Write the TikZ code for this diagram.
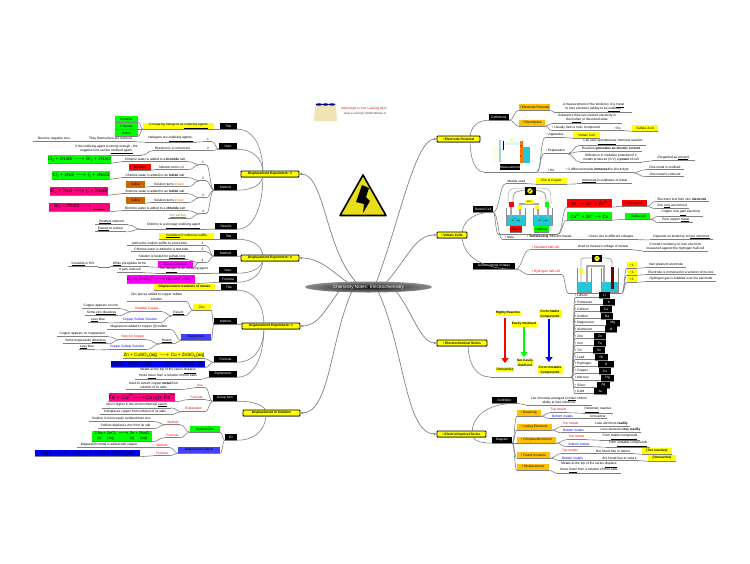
\documentclass[tikz,border=0pt]{standalone}
\usepackage{fontspec}
\setmainfont{Liberation Sans}
\usetikzlibrary{calc,arrows.meta,shapes.geometric}
\definecolor{tyel}{HTML}{FFFF00}
\definecolor{tgrn}{HTML}{00FF00}
\definecolor{tora}{HTML}{FFC000}
\definecolor{tpnk}{HTML}{FF0080}
\definecolor{tmag}{HTML}{FF00FF}
\definecolor{tblu}{HTML}{0000FF}
\definecolor{tmbl}{HTML}{4040FF}
\definecolor{tbrn}{HTML}{CC6600}
\definecolor{tred}{HTML}{FF0000}
\definecolor{lnc}{HTML}{808080}
\definecolor{wcy}{HTML}{20C8D8}
\definecolor{lbei}{HTML}{F0E4B4}
\tikzset{
 x=1pt,y=-1pt,
 every node/.style={font=\fontsize{3.25}{4.5}\selectfont,inner sep=0pt,align=center},
 tx/.style={minimum height=5pt,inner ysep=.5pt},
 bx/.style={minimum height=6pt},
 bk/.style={bx,fill=black,text=white},
 yb/.style={bx,fill=tyel},
 gb/.style={bx,fill=tgrn},
 ob/.style={bx,fill=tora},
 rb/.style={bx,fill=tred},
 bb/.style={bx,fill=tmbl},
 nb/.style={bx,fill=tbrn},
 mb/.style={bx,fill=tmag},
 fm/.style={font=\fontsize{4.6}{5.5}\selectfont},
 rt/.style={tx,text=tred},
 bt/.style={tx,text=tblu},
 topic/.style={fill=tyel,draw=black,line width=.9pt,rounded corners=.8pt,minimum height=6pt},
 ul/.style={draw=lnc,line width=.8pt},
 conn/.style={draw=lnc,line width=.6pt},
 mainl/.style={draw=lnc,line width=.7pt,-{Stealth[length=3pt,width=2.5pt]}},
}
% style, name, x-left, x-right, y, text
\newcommand\nn[6][tx]{\node[#1,minimum width={(#4-#3)*1pt}] (#2) at ({(#3+#4)/2},#5) {#6};\draw[ul] (#2.south west) -- (#2.south east);}
\newcommand\Lnk[2]{\draw[conn] (#1) .. controls ($(#1)!.5!(#1 -| #2)$) and ($(#2)!.5!(#2 -| #1)$) .. (#2);}
\newcommand\Lk[2]{\Lnk{#1.south west}{#2.south east}}
\newcommand\Rk[2]{\Lnk{#1.south east}{#2.south west}}
% topic point, child anchor
\newcommand\Tk[2]{\draw[conn] (#2) .. controls ($(#2)!.6!(#2 -| #1)$) and ($(#1)!.65!(#1 |- #2)$) .. (#1);}
\newcommand\mt[6]{\node[tx,text width={(#3-575)*1pt},align=left,minimum width={(#3-575)*1pt}] (mn#1) at ({(575+#3)/2},#2) {#5};\draw[ul] (mn#1.south west) -- (mn#1.south east);
 \nn[bk]{ms#1}{#3}{#4}{#2}{#6}\Lnk{sh1}{mn#1.south west}}
\newcommand\arw{$\longrightarrow$}
\begin{document}
\begin{tikzpicture}
\useasboundingbox (0,0) rectangle (750,563);
% ---------- logo
\foreach \fx in {319,325.5,332}{
 \fill[lbei] (\fx-4,106) -- (\fx+4,106) -- (\fx+5,121) -- (\fx-5,121) -- cycle;
 \fill[blue!55!black] (\fx,104.5) ellipse (3.4 and 1.2);
}
\node[text=red!80!black,font=\fontsize{3}{3.4}\selectfont] (logoa) at (364,109) {Add Insight to Your Learning Here};
\node[text=black!70,font=\fontsize{3}{3.4}\selectfont] (logob) at (365,114) {www.LearningCurbMindMaps.in};
% ---------- warning sign
\draw[line width=1.6pt,line join=round,fill=yellow!90!black] (363,175) -- (386,215.5) -- (340,215.5) -- cycle;
\fill[black] (362,185) -- (369,188) -- (366,197) -- (370,201) -- (363,213) -- (364,204) -- (356,202) -- cycle;

% ========== Displacement Experiment 3
\coordinate (t3) at (263,174);
\nn[bk]{dT}{220}{237}{126}{Title}
\nn[yb]{dC}{143}{214}{126}{Comparing halogens as \underline{oxidizing agents}}
\nn[gb]{dg1}{115}{138}{119}{Bromine}
\nn[gb]{dg2}{115}{138}{126}{Chlorine}
\nn[gb]{dg3}{115}{138}{133}{Iodine}
\Tk{t3}{dT.south east}\Lk{dT}{dC}\Lk{dC}{dg1}\Lk{dC}{dg2}\Lk{dC}{dg3}
\nn[bk]{dN}{219}{237}{146}{Note}
\nn{dn1}{204}{212}{139}{1}
\nn{dn2}{204}{212}{148}{2}
\nn{dha}{145}{196}{139}{Halogens are \underline{oxidising agents.}}
\nn{dth}{86}{135}{139}{They themselves are reduced}
\nn{dbe}{33}{75}{139}{Become negative ions}
\nn{dre}{153}{192}{148}{Reaction is a conversion}
\nn{dif}{71}{142}{149.5}{If the oxidising agent is strong enough - the\\negative ions can be \underline{oxidised again.}}
\Tk{t3}{dN.south east}\Lk{dN}{dn1}\Lk{dN}{dn2}\Lk{dn1}{dha}\Lk{dha}{dth}\Lk{dth}{dbe}\Lk{dn2}{dre}\Lk{dre}{dif}
\nn[bk]{dM}{214}{237}{187}{Method}
\nn{dm1}{200}{206}{162}{1}
\nn{dm2}{200}{206}{178}{2}
\nn{dm3}{200}{206}{195}{3}
\nn{dm4}{200}{206}{211}{4}
\nn{da1}{122}{188}{159}{Chlorine water is added to a \textbf{bromide} salt}
\nn{da2}{155}{188}{167}{Solution turns \textcolor{tred}{red}}
\nn[rb]{db2}{129}{151}{167}{Bromine}
\nn{da3}{122}{188}{175}{Chlorine water is added to an \textbf{iodide} salt}
\nn{da4}{150}{188}{184}{Solution turns \textcolor{tbrn}{brown}}
\nn[nb]{db4}{126}{145}{184}{Iodine}
\nn{da5}{122}{188}{191}{Bromine water is added to an \textbf{iodide} salt}
\nn{da6}{150}{188}{200}{Solution turns \textcolor{tbrn}{brown}}
\nn[nb]{db6}{126}{145}{200}{Iodine}
\nn{da7}{122}{188}{208}{Bromine water is added to a \textbf{chloride} salt}
\nn[tx,text=olive]{da8}{168}{188}{216}{\underline{No reaction}}
\nn[gb,fm,minimum height=8pt]{df1}{50}{109}{159}{Cl\textsubscript{2} + 2NaBr \arw{} Br\textsubscript{2} + 2NaCl}
\nn[gb,fm,minimum height=8pt]{df3}{52}{110}{175}{Cl\textsubscript{2} + 2NaI \arw{} I\textsubscript{2} + 2NaCl}
\nn[bx,fill=tpnk,fm,minimum height=8pt]{df5}{50}{108}{191}{Br\textsubscript{2} + 2NaI \arw{} I\textsubscript{2} + 2NaBr}
\nn[bx,fill=tpnk,fm,minimum height=9pt]{df7}{49}{110}{207}{Br\textsubscript{2} + 2NaCl \arw{} \underline{\hspace{12pt}}}
\Tk{t3}{dM.south east}
\Lk{dM}{dm1}\Lk{dM}{dm2}\Lk{dM}{dm3}\Lk{dM}{dm4}
\Lk{dm1}{da1}\Lk{dm1}{da2}\Lk{da2}{db2}\Lk{dm2}{da3}\Lk{dm2}{da4}\Lk{da4}{db4}
\Lk{dm3}{da5}\Lk{dm3}{da6}\Lk{da6}{db6}\Lk{dm4}{da7}\Lk{dm4}{da8}
\Lk{da1}{df1}\Lk{da3}{df3}\Lk{da5}{df5}\Lk{da7}{df7}
\nn[bk]{dR}{215}{237}{226}{Results}
\nn{dr1}{141}{206}{226}{Chlorine is a \underline{stronger oxidising agent}}
\nn{dr2}{95}{128}{222}{\underline{Smallest} element}
\nn{dr3}{95}{126}{229}{\underline{Easiest} to reduce}
\Tk{t3}{dR.south east}\Lk{dR}{dr1}\Lk{dr1}{dr2}\Lk{dr1}{dr3}
\nn[topic]{d3}{241}{299}{174}{\textbf{Displacement Experiment: 3}}

% ========== Displacement Experiment 2
\coordinate (t2) at (263,258);
\nn[bk]{eT}{220}{237}{236}{Title}
\nn[yb]{eC}{159}{214}{236}{\underline{Oxidation} of sulfurous sulfite}
\Tk{t2}{eT.south east}\Lk{eT}{eC}
\nn[bk]{eM}{214}{237}{253}{Method}
\nn{em1}{199}{206}{243}{1}
\nn{em2}{199}{206}{249}{2}
\nn{em3}{199}{206}{260}{3}
\nn{ea1}{127}{192}{243}{Add some sodium sulfite to a test-tube}
\nn{ea2}{131}{192}{249}{Chlorine water is added to a test-tube}
\nn{ea3}{136}{188}{257}{Solution is tested for \underline{sulfate ions}}
\nn[mb]{ea4}{158}{193}{264}{Barium chloride}
\nn{ea5}{110}{149}{264}{\underline{White} precipitate forms}
\nn{ea6}{68}{98}{264}{\underline{Insoluble} in HCl}
\Tk{t2}{eM.south east}\Lk{eM}{em1}\Lk{eM}{em2}\Lk{eM}{em3}\Lk{em1}{ea1}\Lk{em2}{ea2}\Lk{em3}{ea3}\Lk{em3}{ea4}\Lk{ea4}{ea5}\Lk{ea5}{ea6}
\nn[bk]{eN}{219}{237}{270}{Note}
\nn{en1}{156}{211}{270}{The \underline{halogen} is an oxidising agent}
\nn{en2}{117}{143}{270}{It gets reduced}
\Tk{t2}{eN.south east}\Lk{eN}{en1}\Lk{en1}{en2}
\nn[bk]{eF}{219}{237}{279}{Formula}
\nn[mb,font=\fontsize{3.7}{4.5}\selectfont,minimum height=9pt]{ef}{129}{193}{279}{Cl\textsubscript{2}+H\textsubscript{2}O+SO\textsubscript{3}\textsuperscript{2--}\arw{}2Cl\textsuperscript{--}+2H\textsuperscript{+}+SO\textsubscript{4}\textsuperscript{2--}}
\Tk{t2}{eF.south east}\Lk{eF}{ef}
\nn[topic]{d2}{241}{299}{258}{\textbf{Displacement Experiment: 2}}

% ========== Displacement Experiment 1
\coordinate (t1) at (264,326);
\nn[bk]{fT}{221}{237}{287}{Title}
\nn[yb]{fC}{154}{215}{287}{\textbf{Displacement reactions of metals}}
\Tk{t1}{fT.south east}\Lk{fT}{fC}
\nn[bk]{fM}{214}{237}{321}{Method}
\nn[yb]{fZ}{193}{211}{307}{Zinc}
\nn[bb]{fG}{181}{211}{337}{Magnesium}
\nn{fz1}{127}{186}{297}{Zinc pieces added to copper sulfate\\solution}
\nn{fz2}{172}{185}{313}{\underline{Result:}}
\nn[rt]{fz3}{132}{162}{309}{Reddish Copper}
\nn{fz4}{82}{120}{306}{Copper appears on zinc}
\nn{fz5}{85}{118}{313}{Some \underline{zinc dissolves}}
\nn[bt]{fz6}{120}{160}{320}{Copper Sulfate Solution}
\nn{fz7}{88}{108}{320}{\underline{Less} blue}
\nn{fg1}{107}{171}{327}{Magnesium added to copper (II) sulfate}
\nn{fg2}{160}{174}{341}{\underline{Result:}}
\nn[rt]{fg3}{120}{146}{337}{Red-Ish Copper}
\nn{fg4}{57}{108}{334}{Copper appears on magnesium}
\nn{fg5}{63}{108}{341}{Some magnesium \underline{dissolves}}
\nn[bt]{fg6}{108}{146}{347}{Copper Sulfate Solution}
\nn{fg7}{79}{95}{347}{\underline{Less} blue}
\Tk{t1}{fM.south east}\Lk{fM}{fZ}\Lk{fM}{fG}
\Lk{fZ}{fz1}\Lk{fZ}{fz2}\Lk{fz2}{fz3}\Lk{fz3}{fz4}\Lk{fz3}{fz5}\Lk{fz2}{fz6}\Lk{fz6}{fz7}
\Lk{fG}{fg1}\Lk{fG}{fg2}\Lk{fg2}{fg3}\Lk{fg3}{fg4}\Lk{fg3}{fg5}\Lk{fg2}{fg6}\Lk{fg6}{fg7}
\nn[bk]{fF}{214}{237}{359}{Formula}
\nn[yb,fm,minimum height=7pt]{ff1}{124}{204}{355}{Zn + CuSO\textsubscript{4}(aq) \arw{} Cu + ZnSO\textsubscript{4}(aq)}
\nn[bx,fill=tblu,fm,minimum height=7pt]{ff2}{112}{204}{364}{Mg(s) + CuSO\textsubscript{4}(aq) \arw{} Cu(s) + MgSO\textsubscript{4}(aq)}
\Tk{t1}{fF.south east}\Lk{fF}{ff1}\Lk{fF}{ff2}
\nn[bk]{fE}{209}{237}{374}{Explanation}
\nn{fe1}{135}{201}{373.5}{Metals at the top of the series \underline{displace}\\those \underline{lower} from a solution of their salts}
\Tk{t1}{fE.south east}\Lk{fE}{fe1}
\nn[topic]{d1}{242}{300}{326}{\textbf{Displacement Experiment: 1}}

% ========== Displacement in Solution
\coordinate (t0) at (266,413);
\nn[bk]{gG}{213}{237}{398}{Group Item}
\nn[rt]{gU}{195}{205}{385}{Use}
\nn{gu1}{126}{181}{385.5}{Used to extract copper \textbf{metal} from\\solution of its salts}
\nn[rt]{gF}{188}{205}{397}{Formula}
\nn[bx,fill=tpnk,font=\fontsize{5.6}{7}\selectfont,minimum height=9pt]{gf1}{110}{174}{397}{Fe + Cu\textsuperscript{2+}\arw{}Cu(s)+ Fe\textsuperscript{2+}}
\nn[rt]{gE}{182}{205}{409}{Explanation}
\nn{ge1}{102}{171}{405}{Iron is higher in the electrochemical \underline{series}}
\nn{ge2}{100}{170}{412}{It displaces copper from solution of its salts}
\Tk{t0}{gG.south east}\Lk{gG}{gU}\Lk{gG}{gF}\Lk{gG}{gE}\Lk{gU}{gu1}\Lk{gF}{gf1}\Lk{gE}{ge1}\Lk{gE}{ge2}
\nn[bk]{gX}{225}{237}{437}{Ex}
\nn[gb]{gS}{190}{220}{429}{Sodium/Zinc}
\nn[bb]{gM}{178}{220}{450}{Magnesium/Copper}
\nn[rt]{gs1}{166}{180}{422}{Method}
\nn[rt]{gs2}{165}{180}{435}{Formula}
\nn{gs3}{89}{154}{419}{Sodium is more easily oxidised than zinc}
\nn{gs4}{98}{153}{426}{Sodium displaces zinc from its salt}
\nn[gb,font=\fontsize{3.8}{4.6}\selectfont,minimum height=11pt]{gs5}{92}{152}{436}{2 Na + ZnCl\textsubscript{2} \arw{} Zn + 2NaCl\\(s)\hspace{6pt}(aq)\hspace{16pt}(s)\hspace{6pt}(aq)}
\nn[rt]{gm1}{154}{170}{445}{Method}
\nn[rt]{gm2}{154}{170}{453}{Formula}
\nn{gm3}{77}{141}{445}{Magnesium metal is added with copper}
\nn[bx,fill=tblu,fm,minimum height=7pt]{gm4}{35}{140}{453}{Mg(s) + CuSO\textsubscript{4}(aq) \arw{} Cu(s) + MgSO\textsubscript{4}(aq)}
\Tk{t0}{gX.south east}\Lk{gX}{gS}\Lk{gX}{gM}\Lk{gS}{gs1}\Lk{gS}{gs2}\Lk{gs1}{gs3}\Lk{gs1}{gs4}\Lk{gs2}{gs5}\Lk{gM}{gm1}\Lk{gM}{gm2}\Lk{gm1}{gm3}\Lk{gm2}{gm4}
\nn[topic]{d0}{243}{300}{413}{\textbf{Displacement in Solution}}

% ========== Electrode Potential
\coordinate (r1) at (470,139);
\nn[bk]{pD}{489}{509}{117}{Definitions}
\nn[ob]{pE}{519}{550}{107}{• Electrode Potential}
\nn[ob]{pL}{519}{545}{123}{• Electrolytes}
\nn{pe1}{555}{632}{107.5}{A measurement of the tendency of a \underline{metal}\\to lose electrons (ability to be \underline{oxidised})}
\nn{pl1}{552}{622}{118.5}{Substance that can conduct electricity in\\the \underline{molten} or dissolved state}
\nn{pl2}{552}{600}{128}{• Usually Salt or Ionic Compound}
\nn{pl3}{612}{624}{128}{• Ex.}
\nn[yb]{pl4}{632}{658}{128}{Sulfate Acid}
\Tk{r1}{pD.south west}\Rk{pD}{pE}\Rk{pD}{pL}\Rk{pE}{pe1}\Rk{pL}{pl1}\Rk{pL}{pl2}\Rk{pl2}{pl3}\Rk{pl3}{pl4}
% measurement figure
\fill[black!10!yellow!8!white] (492,148) rectangle (500,162);
\fill[black!35!cyan!40!white] (499,140) rectangle (501,162);
\fill[black] (503,141) rectangle (504,150);
\fill[cyan!12] (505,142) rectangle (520,145);
\fill[wcy] (520,147) rectangle (530,163);
\fill[orange!90!red] (520,141) rectangle (523,163);
\fill[black] (521,146) circle (.6) (521,156) circle (.6);
\node[bx,minimum height=2pt,fill=yellow!60,minimum width=3pt] (mv) at (511,140) {};
\coordinate (ms0) at (484,172);
\coordinate (ms1) at (537,172);
\Tk{r1}{ms0}
\draw[ul] (ms0) -- (ms1);
\node[bk] (mL) at (510,167) {Measurement};
\nn{pa1}{545}{565}{135}{• Apparatus}
\nn[yb]{pa2}{573}{600}{135}{Voltaic Cell}
\nn{pa3}{544}{567}{151}{• Explanation}
\nn{pa4}{580}{646}{142}{Cell uses \underline{spontaneous} chemical reaction}
\nn{pa5}{580}{642}{149}{Reaction \textbf{generates an electric current}}
\nn{pa6}{580}{642}{157.5}{Difference in oxidation potential of 2\\metals produces (in V) a \textbf{power} of cell}
\nn{pa7}{652}{695}{158}{(Regarded as \underline{solvent})}
\nn{pa8}{546}{556}{170}{• Kit}
\nn{pa9}{563}{632}{170}{• 2 different metals \textbf{immersed} in electrolyte}
\nn{pa10}{646}{684}{167}{One metal is oxidised}
\nn{pa11}{646}{684}{174}{One metal is reduced}
\Lnk{ms1}{pa1.south west}\Lnk{ms1}{pa3.south west}\Lnk{ms1}{pa8.south west}
\Rk{pa1}{pa2}\Rk{pa3}{pa4}\Rk{pa3}{pa5}\Rk{pa3}{pa6}\Rk{pa6}{pa7}\Rk{pa8}{pa9}\Rk{pa9}{pa10}\Rk{pa9}{pa11}
\nn[topic]{q1}{437}{480}{139}{\textbf{• Electrode Potential}}

% ========== Voltaic Cells
\coordinate (r2) at (462,235);
\nn[bk]{vD}{473}{493}{209}{Daniell Cell}
\nn{vm1}{506}{527}{181}{Metals used}
\nn[yb]{vm2}{536}{567}{181}{\textit{Zinc \& Copper}}
\nn{vm3}{577}{632}{181}{\underline{Immersed} in sulphates of metal}
\Tk{r2}{vD.south east}\Rk{vD}{vm1}\Rk{vm1}{vm2}\Rk{vm2}{vm3}
% Daniell figure
\coordinate (vi0) at (498,234);
\coordinate (vi1) at (558,234);
\draw[ul] (vi0) -- (vi1);
\Lnk{vD.south east}{vi0}
\draw[black!35,line width=.9pt] (513,203) .. controls (513,192) .. (525,190);
\draw[black!35,line width=.9pt] (546,203) .. controls (546,192) .. (534,190);
\draw[black!35,line width=.5pt] (508,204) .. controls (508,188) .. (525,188) (551,204) .. controls (551,188) .. (534,188);
\fill[wcy] (506,215) rectangle (525,225);
\fill[wcy] (533,215) rectangle (552,225);
\draw[black!45,line width=.5pt] (506,208) -- (506,225) -- (525,225) -- (525,208) (533,208) -- (533,225) -- (552,225) -- (552,208);
\draw[black!35,line width=1.6pt] (511,205) -- (511,218) (548,205) -- (548,218);
\draw[black!35,line width=1.4pt] (520,218) -- (520,204) -- (538,204) -- (538,218);
\node[bx,minimum height=5pt,minimum width=5pt,fill=tred] (va) at (511,204) {};
\node[bx,minimum height=5pt,minimum width=4pt,fill=tgrn] (vc) at (547,204) {};
\node[bx,minimum height=4pt,minimum width=9pt,fill=tyel,font=\fontsize{2.4}{3}\selectfont] (vk) at (529,202) {KCl};
\node[bx,minimum height=4pt,minimum width=4pt,fill=tyel] (vy1) at (520,207) {};
\node[bx,minimum height=4pt,minimum width=4pt,fill=tyel] (vy2) at (537,207) {};
\node[font=\fontsize{2.2}{3}\selectfont] (vz) at (516,220.5) {Zn\textsuperscript{2+}(aq)};
\node[font=\fontsize{2.2}{3}\selectfont] (vu) at (543,220.5) {Cu\textsuperscript{2+}(aq)};
\node[minimum width=11pt,minimum height=8pt,fill=black] (vmt) at (530,191) {};
\fill[tyel] (vmt) circle (2.8);\draw[line width=.6pt] (528.5,192.5) -- (531.5,189.5);
\nn[rb]{vAn}{510}{522}{229}{Anode}
\nn[gb]{vCa}{534}{549}{229}{Cathode}
\nn[rb,fm,minimum height=8pt]{vf1}{567}{612}{203}{Zn $\rightarrow$ 2e\textsuperscript{--} + Zn\textsuperscript{2+}}
\nn[gb,fm,minimum height=8pt]{vf2}{567}{612}{216}{Cu\textsuperscript{2+} + 2e\textsuperscript{--} $\rightarrow$ Cu}
\nn[rb]{vO}{622}{647}{203}{• Oxidation}
\nn[gb]{vR}{625}{650}{216}{• Reduction}
\nn{vo1}{655}{709}{199}{Electrons lost from zinc \textbf{electrode}}
\nn{vo2}{655}{689}{206}{Zinc \underline{ions} are formed}
\nn{vr1}{659}{703}{213}{Copper ions \underline{gain} electrons}
\nn{vr2}{659}{693}{220}{Pure copper \underline{metal}.}
\Lnk{vi1}{vf1.south west}\Lnk{vi1}{vf2.south west}\Rk{vf1}{vO}\Rk{vf2}{vR}\Rk{vO}{vo1}\Rk{vO}{vo2}\Rk{vR}{vr1}\Rk{vR}{vr2}
\nn{vn1}{503}{516}{237}{• Note}
\nn{vn2}{525}{574}{237}{• \textbf{Substituting} different metals}
\nn{vn3}{583}{638}{237}{• Gives rise to different voltages}
\nn{vn4}{650}{713}{237}{Depends on tendency to \underline{lose electrons}}
\Rk{vD}{vn1}\Rk{vn1}{vn2}\Rk{vn2}{vn3}\Rk{vn3}{vn4}
\nn[bk]{wD}{473}{515}{266}{General Metal Voltage}
\nn[rt]{w1}{530}{561}{247}{• Standard half-cell}
\nn{w2}{574}{632}{247}{Used to measure voltage of metals}
\nn{w3}{643}{708}{246.5}{If metal's tendency to lose electrons\\measured against the hydrogen half-cell}
\nn[rt]{w4}{530}{562}{272}{• Hydrogen half-cell}
\Tk{r2}{wD.south east}\Rk{wD}{w1}\Rk{wD}{w4}\Rk{w1}{w2}\Rk{w2}{w3}
% hydrogen cell figure
\coordinate (hc0) at (568,293);
\coordinate (hc1) at (622,293);
\draw[ul] (hc0) -- (hc1);
\Lnk{w4.south east}{hc0}
\fill[wcy] (577,282) rectangle (591,292);
\fill[wcy] (601,282) rectangle (618,292);
\draw[black!45,line width=.5pt] (577,268) -- (577,292) -- (591,292) -- (591,268) (601,268) -- (601,292) -- (618,292) -- (618,268);
\draw[black!35,line width=1.8pt] (587,284) -- (587,266) -- (604,266) -- (604,284);
\draw[black!35,line width=.8pt] (581,285) -- (581,261) .. controls (581,258) .. (592,258) (602,258) .. controls (612,258) .. (612,266);
\fill[black!55!red] (611,267) rectangle (614,289);
\node[bx,minimum height=4pt,minimum width=4pt,fill=tyel] (hy) at (581,271) {};
\node[minimum width=10pt,minimum height=7pt,fill=black] (hm) at (597,258.5) {};
\fill[tyel] (hm) circle (2.6);
\node[font=\fontsize{2.4}{3}\selectfont] (hV) at (597,258.5) {V};
\nn[yb]{hn1}{627}{637}{265}{• 1.}
\nn[yb]{hn2}{627}{637}{272}{• 2.}
\nn[yb]{hn3}{627}{637}{279}{• 3.}
\nn{ht1}{646}{686}{265}{Inert platinum electrode}
\nn{ht2}{646}{716}{272}{Electrode is immersed in a solution of its ions}
\nn{ht3}{646}{716}{279}{Hydrogen gas is bubbled over the electrode}
\Lnk{hc1}{hn1.south west}\Lnk{hc1}{hn2.south west}\Lnk{hc1}{hn3.south west}\Rk{hn1}{ht1}\Rk{hn2}{ht2}\Rk{hn3}{ht3}
\nn[topic]{q2}{437}{467}{235}{\textbf{• Voltaic Cells}}

% ========== Electrochemical Series (list)
\coordinate (r3) at (468,343);
\coordinate (sh0) at (490,377);
\coordinate (sh1) at (572,377);
\Tk{r3}{sh0}
\draw[ul] (sh0) -- (sh1);
\draw[tred,line width=2.2pt,-{Triangle[length=5pt,width=7pt]}] (505,318) -- (505,363);
\draw[tgrn,line width=2.2pt,-{Triangle[length=5pt,width=7pt]}] (524,327) -- (524,357);
\draw[tblu,line width=2.2pt,-{Triangle[length=5pt,width=7pt]}] (549,319) -- (549,362);
\node[yb,minimum width=25pt,minimum height=5pt] (sa) at (508,313) {\textbf{Highly Reactive}};
\node[yb,minimum width=25pt,minimum height=5pt] (sb) at (524,324) {\textbf{Easily Oxidised}};
\node[yb,minimum width=23pt] (sc) at (550,314) {\textbf{Form Stable}\\\textbf{Compounds}};
\node[yb,minimum width=18pt,minimum height=5pt] (sd) at (505,369) {\textbf{Unreactive}};
\node[yb,minimum width=17pt] (se) at (525,363) {\textbf{Not Easily}\\\textbf{Oxidised}};
\node[yb,minimum width=25pt] (sf) at (550,370) {\textbf{Form Unstable}\\\textbf{Compounds}};
\mt{1}{295}{599}{610}{• Lithium}{Li}
\mt{2}{302}{603}{615}{• Potassium}{K}
\mt{3}{309}{600}{612}{• Calcium}{Ca}
\mt{4}{316}{601}{613}{• Sodium}{Na}
\mt{5}{323}{606}{620}{• Magnesium}{Mg}
\mt{6}{329}{605}{617}{• Aluminium}{Al}
\mt{7}{336}{594}{606}{• Zinc}{Zn}
\mt{8}{343}{594}{606}{• Iron}{Fe}
\mt{9}{350}{593}{605}{• Tin}{Sn}
\mt{10}{357}{595}{608}{• Lead}{Pb}
\mt{11}{364}{598}{614}{• Hydrogen}{H}
\mt{12}{371}{599}{611}{• Copper}{Cu}
\mt{13}{378}{601}{614}{• Mercury}{Hg}
\mt{14}{385}{597}{610}{• Silver}{Ag}
\mt{15}{391}{594}{607}{• Gold}{Au}
\nn[topic]{q3}{437}{487}{343}{\textbf{• Electrochemical Series}}

% ========== Electrochemical Series (definition)
\coordinate (r4) at (472,434);
\nn[bk]{xD}{492}{517}{400}{Definition}
\nn{xd1}{526}{592}{400.5}{List of metals arranged in \underline{order} of their\\ability to lose electrons}
\Tk{r4}{xD.south east}\Rk{xD}{xd1}
\nn[bk]{xG}{492}{512}{440}{Diagram}
\nn[ob]{x1}{517}{541}{413}{• Reactivity}
\nn[ob]{x2}{517}{552}{427}{• Losing Electrons}
\nn[ob]{x3}{517}{556}{440}{• Compounds formed}
\nn[ob]{x4}{517}{550}{455}{• Found in nature}
\nn[ob]{x5}{517}{549}{467}{• Displacement}
\Tk{r4}{xG.south west}\Rk{xG}{x1}\Rk{xG}{x2}\Rk{xG}{x3}\Rk{xG}{x4}\Rk{xG}{x5}
\nn[rt]{x1a}{550}{567}{410}{Top metals}
\nn{x1b}{583}{613}{410}{\underline{Extremely} reactive}
\nn[bt]{x1c}{550}{575}{416}{Bottom metals}
\nn{x1d}{589}{607}{416}{Unreactive}
\Rk{x1}{x1a}\Rk{x1a}{x1b}\Rk{x1}{x1c}\Rk{x1c}{x1d}
\nn[rt]{x2a}{561}{580}{424}{Top metals}
\nn{x2b}{593}{630}{424}{Lose electrons \textbf{readily}}
\nn[bt]{x2c}{561}{586}{430}{Bottom metals}
\nn{x2d}{600}{641}{430}{Lose electrons \textbf{less readily}}
\Rk{x2}{x2a}\Rk{x2a}{x2b}\Rk{x2}{x2c}\Rk{x2c}{x2d}
\nn[rt]{x3a}{567}{586}{437}{Top metals}
\nn{x3b}{600}{640}{437}{Form \underline{stable compounds}}
\nn[bt]{x3c}{567}{591}{444}{Bottom metals}
\nn{x3d}{606}{650}{444}{Form \underline{unstable compounds}}
\Rk{x3}{x3a}\Rk{x3a}{x3b}\Rk{x3}{x3c}\Rk{x3c}{x3d}
\nn[rt]{x4a}{561}{579}{451}{Top metals}
\nn{x4b}{593}{633}{451}{Not found free in nature}
\nn[yb]{x4c}{642}{672}{451}{\textbf{(Too reactive)}}
\nn[bt]{x4d}{561}{584}{458}{Bottom metals}
\nn{x4e}{600}{639}{458}{Are found free in nature}
\nn[yb]{x4f}{648}{676}{458}{\textbf{(Unreactive)}}
\Rk{x4}{x4a}\Rk{x4a}{x4b}\Rk{x4b}{x4c}\Rk{x4}{x4d}\Rk{x4d}{x4e}\Rk{x4e}{x4f}
\nn{x5a}{557}{621}{467.5}{Metals at the top of the series \underline{displace}\\those \underline{lower} from a solution of their salts}
\Rk{x5}{x5a}
\nn[topic]{q4}{437}{486}{434}{\textbf{• Electrochemical Series}}

% ========== centre
\coordinate (c1) at (357,283);\coordinate (c2) at (350,284);
\coordinate (c3) at (340,290);\coordinate (c4) at (352,291);
\coordinate (c5) at (376,283);\coordinate (c6) at (385,284);
\coordinate (c7) at (395,290);\coordinate (c8) at (378,291);
\draw[mainl] (c1) .. controls (325,250) and (325,174) .. (d3.east);
\draw[mainl] (c2) .. controls (330,270) and (320,258) .. (d2.east);
\draw[mainl] (c3) .. controls (325,310) and (318,326) .. (d1.east);
\draw[mainl] (c4) .. controls (330,340) and (330,413) .. (d0.east);
\draw[mainl] (c5) .. controls (400,220) and (415,139) .. (q1.west);
\draw[mainl] (c6) .. controls (410,255) and (415,235) .. (q2.west);
\draw[mainl] (c7) .. controls (412,310) and (420,343) .. (q3.west);
\draw[mainl] (c8) .. controls (405,350) and (405,434) .. (q4.west);
\node[ellipse,inner color=black!95,outer color=black!45,minimum width=127pt,minimum height=11pt,text=white,font=\fontsize{4.6}{5.5}\selectfont] (ctr) at (368.5,287) {Chemistry Notes: Electrochemistry};
\end{tikzpicture}
\end{document}
